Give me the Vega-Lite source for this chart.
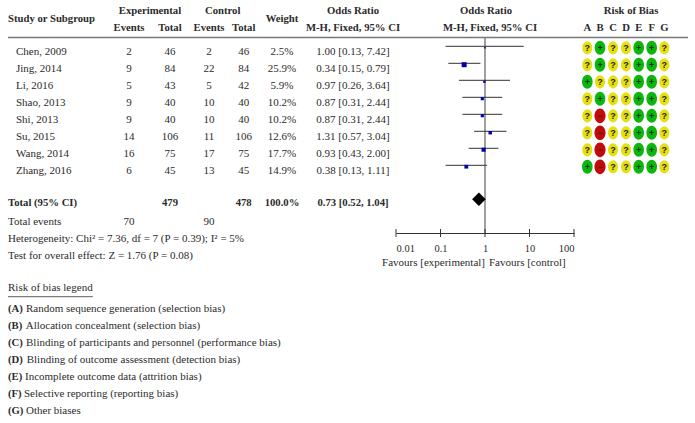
{
"$schema":"https://vega.github.io/schema/vega-lite/v6.json",
"width":695,"height":423,"padding":0,"autosize":"none","background":"white",
"config":{"view":{"stroke":null},"text":{"font":"Liberation Serif","fontSize":11,"color":"#2b2b2b"}},
"datasets":{
"boldCenter":[
{"line":0,"col":9,"t":"Experimental"},{"line":0,"col":12,"t":"Control"},{"line":1,"col":14,"t":"Weight"},{"line":0,"col":15,"t":"Odds Ratio"},{"line":0,"col":17,"t":"Odds Ratio"},{"line":0,"col":24,"t":"Risk of Bias"},
{"line":2,"col":8,"t":"Events"},{"line":2,"col":10,"t":"Total"},{"line":2,"col":11,"t":"Events"},{"line":2,"col":13,"t":"Total"},{"line":2,"col":15,"t":"M-H, Fixed, 95% CI"},{"line":2,"col":19,"t":"M-H, Fixed, 95% CI"},
{"line":2,"col":20,"t":"A"},{"line":2,"col":21,"t":"B"},{"line":2,"col":22,"t":"C"},{"line":2,"col":23,"t":"D"},{"line":2,"col":25,"t":"E"},{"line":2,"col":26,"t":"F"},{"line":2,"col":27,"t":"G"},
{"line":12,"col":10,"t":"479"},{"line":12,"col":13,"t":"478"},{"line":12,"col":14,"t":"100.0%"},{"line":12,"col":15,"t":"0.73 [0.52, 1.04]"}],
"boldLeft":[{"line":1,"col":0,"t":"Study or Subgroup"},{"line":12,"col":0,"t":"Total (95% CI)"},
{"line":19,"col":0,"t":"(A)"},{"line":20,"col":0,"t":"(B)"},{"line":21,"col":0,"t":"(C)"},{"line":22,"col":0,"t":"(D)"},{"line":23,"col":0,"t":"(E)"},{"line":24,"col":0,"t":"(F)"},{"line":25,"col":0,"t":"(G)"}],
"plainLeft":[
{"line":4,"col":1,"t":"Chen, 2009"},{"line":5,"col":1,"t":"Jing, 2014"},{"line":6,"col":1,"t":"Li, 2016"},{"line":7,"col":1,"t":"Shao, 2013"},{"line":8,"col":1,"t":"Shi, 2013"},{"line":9,"col":1,"t":"Su, 2015"},{"line":10,"col":1,"t":"Wang, 2014"},{"line":11,"col":1,"t":"Zhang, 2016"},
{"line":13,"col":0,"t":"Total events"},{"line":15,"col":0,"t":"Heterogeneity: Chi² = 7.36, df = 7 (P = 0.39); I² = 5%"},{"line":16,"col":0,"t":"Test for overall effect: Z = 1.76 (P = 0.08)"},{"line":17,"col":0,"t":"Risk of bias legend"},
{"line":19,"col":5,"t":"Random sequence generation (selection bias)"},{"line":20,"col":4,"t":"Allocation concealment (selection bias)"},{"line":21,"col":5,"t":"Blinding of participants and personnel (performance bias)"},{"line":22,"col":6,"t":"Blinding of outcome assessment (detection bias)"},{"line":23,"col":3,"t":"Incomplete outcome data (attrition bias)"},{"line":24,"col":2,"t":"Selective reporting (reporting bias)"},{"line":25,"col":5,"t":"Other biases"},
{"line":16.22,"col":18,"t":"Favours [control]"}],
"plainRight":[{"line":16.22,"col":16,"t":"Favours [experimental]"}],
"plainCenter":[
{"line":4,"col":8,"t":"2"},{"line":4,"col":10,"t":"46"},{"line":4,"col":11,"t":"2"},{"line":4,"col":13,"t":"46"},{"line":4,"col":14,"t":"2.5%"},{"line":4,"col":15,"t":"1.00 [0.13, 7.42]"},
{"line":5,"col":8,"t":"9"},{"line":5,"col":10,"t":"84"},{"line":5,"col":11,"t":"22"},{"line":5,"col":13,"t":"84"},{"line":5,"col":14,"t":"25.9%"},{"line":5,"col":15,"t":"0.34 [0.15, 0.79]"},
{"line":6,"col":8,"t":"5"},{"line":6,"col":10,"t":"43"},{"line":6,"col":11,"t":"5"},{"line":6,"col":13,"t":"42"},{"line":6,"col":14,"t":"5.9%"},{"line":6,"col":15,"t":"0.97 [0.26, 3.64]"},
{"line":7,"col":8,"t":"9"},{"line":7,"col":10,"t":"40"},{"line":7,"col":11,"t":"10"},{"line":7,"col":13,"t":"40"},{"line":7,"col":14,"t":"10.2%"},{"line":7,"col":15,"t":"0.87 [0.31, 2.44]"},
{"line":8,"col":8,"t":"9"},{"line":8,"col":10,"t":"40"},{"line":8,"col":11,"t":"10"},{"line":8,"col":13,"t":"40"},{"line":8,"col":14,"t":"10.2%"},{"line":8,"col":15,"t":"0.87 [0.31, 2.44]"},
{"line":9,"col":8,"t":"14"},{"line":9,"col":10,"t":"106"},{"line":9,"col":11,"t":"11"},{"line":9,"col":13,"t":"106"},{"line":9,"col":14,"t":"12.6%"},{"line":9,"col":15,"t":"1.31 [0.57, 3.04]"},
{"line":10,"col":8,"t":"16"},{"line":10,"col":10,"t":"75"},{"line":10,"col":11,"t":"17"},{"line":10,"col":13,"t":"75"},{"line":10,"col":14,"t":"17.7%"},{"line":10,"col":15,"t":"0.93 [0.43, 2.00]"},
{"line":11,"col":8,"t":"6"},{"line":11,"col":10,"t":"45"},{"line":11,"col":11,"t":"13"},{"line":11,"col":13,"t":"45"},{"line":11,"col":14,"t":"14.9%"},{"line":11,"col":15,"t":"0.38 [0.13, 1.11]"},
{"line":13,"col":8,"t":"70"},{"line":13,"col":11,"t":"90"}],
"rules":[{"line":3,"from":0,"to":28}],
"underline":[{"line":18,"from":0,"to":7}],
"risk":[
{"line":4,"col":20,"r":"?"},{"line":4,"col":21,"r":"+"},{"line":4,"col":22,"r":"?"},{"line":4,"col":23,"r":"?"},{"line":4,"col":25,"r":"+"},{"line":4,"col":26,"r":"+"},{"line":4,"col":27,"r":"?"},
{"line":5,"col":20,"r":"?"},{"line":5,"col":21,"r":"+"},{"line":5,"col":22,"r":"?"},{"line":5,"col":23,"r":"?"},{"line":5,"col":25,"r":"+"},{"line":5,"col":26,"r":"+"},{"line":5,"col":27,"r":"?"},
{"line":6,"col":20,"r":"+"},{"line":6,"col":21,"r":"?"},{"line":6,"col":22,"r":"?"},{"line":6,"col":23,"r":"?"},{"line":6,"col":25,"r":"+"},{"line":6,"col":26,"r":"+"},{"line":6,"col":27,"r":"?"},
{"line":7,"col":20,"r":"?"},{"line":7,"col":21,"r":"+"},{"line":7,"col":22,"r":"?"},{"line":7,"col":23,"r":"?"},{"line":7,"col":25,"r":"+"},{"line":7,"col":26,"r":"+"},{"line":7,"col":27,"r":"?"},
{"line":8,"col":20,"r":"?"},{"line":8,"col":21,"r":"−"},{"line":8,"col":22,"r":"?"},{"line":8,"col":23,"r":"?"},{"line":8,"col":25,"r":"+"},{"line":8,"col":26,"r":"+"},{"line":8,"col":27,"r":"?"},
{"line":9,"col":20,"r":"?"},{"line":9,"col":21,"r":"−"},{"line":9,"col":22,"r":"?"},{"line":9,"col":23,"r":"?"},{"line":9,"col":25,"r":"+"},{"line":9,"col":26,"r":"+"},{"line":9,"col":27,"r":"?"},
{"line":10,"col":20,"r":"?"},{"line":10,"col":21,"r":"−"},{"line":10,"col":22,"r":"?"},{"line":10,"col":23,"r":"?"},{"line":10,"col":25,"r":"+"},{"line":10,"col":26,"r":"+"},{"line":10,"col":27,"r":"?"},
{"line":11,"col":20,"r":"+"},{"line":11,"col":21,"r":"−"},{"line":11,"col":22,"r":"?"},{"line":11,"col":23,"r":"?"},{"line":11,"col":25,"r":"+"},{"line":11,"col":26,"r":"+"},{"line":11,"col":27,"r":"?"}],
"studies":[
{"line":4,"weight":2.5,"or":1.00,"lo":0.13,"hi":7.42},
{"line":5,"weight":25.9,"or":0.34,"lo":0.15,"hi":0.79},
{"line":6,"weight":5.9,"or":0.97,"lo":0.26,"hi":3.64},
{"line":7,"weight":10.2,"or":0.87,"lo":0.31,"hi":2.44},
{"line":8,"weight":10.2,"or":0.87,"lo":0.31,"hi":2.44},
{"line":9,"weight":12.6,"or":1.31,"lo":0.57,"hi":3.04},
{"line":10,"weight":17.7,"or":0.93,"lo":0.43,"hi":2.00},
{"line":11,"weight":14.9,"or":0.38,"lo":0.13,"hi":1.11}],
"overall":[{"line":12,"or":0.73,"lo":0.52,"hi":1.04}],
"noEffect":[{"or":1,"from":3,"to":14}],
"ticks":[{"line":14,"or":0.01},{"line":14,"or":0.1},{"line":14,"or":1},{"line":14,"or":10},{"line":14,"or":100}]
},
"encoding":{
"y":{"field":"line","type":"quantitative","axis":null,"scale":{"domain":[0,1,2,3,4,5,6,7,8,9,10,11,12,13,14,15,16,17,18,19,20,21,22,23,24,25],"range":[11,19,28,37.5,52,69,86,103,120,137,154,171,203,221.7,233,239,256,288,296.7,309,326,343,360,377,394,411]}}
},
"layer":[
{"encoding":{"x":{"field":"col","type":"quantitative","axis":null,"scale":{"domain":[0,1,2,3,4,5,6,7,8,9,10,11,12,13,14,15,16,17,18,19,20,21,22,23,24,25,26,27,28],"range":[8,16,24,25,25.7,26,26.7,92.7,129,150,170,209,222.7,243.7,282,353,485,486,489,490,587.3,600,613,626,631,638.7,651.7,664.3,688]}}},
"layer":[
{"data":{"name":"rules"},"mark":{"type":"rule","color":"#777777","strokeWidth":1.5},"encoding":{"x":{"field":"from","type":"quantitative"},"x2":{"field":"to"}}},
{"data":{"name":"underline"},"mark":{"type":"rule","color":"#333333","strokeWidth":0.8},"encoding":{"x":{"field":"from","type":"quantitative"},"x2":{"field":"to"}}},
{"data":{"name":"risk"},"mark":{"type":"point","filled":true,"opacity":1,"shape":"M-0.76,0A0.76,1,0,1,1,0.76,0A0.76,1,0,1,1,-0.76,0Z","yOffset":-4.2},"encoding":{"fill":{"field":"r","type":"nominal","legend":null,"scale":{"domain":["?","+","−"],"range":["#e6df12","#0cb60f","#bf0b0b"]}},"size":{"field":"r","type":"ordinal","legend":null,"scale":{"domain":["?","+","−"],"range":[175,215,215]}}}},
{"data":{"name":"risk"},"mark":{"type":"text","font":"Liberation Sans","fontSize":9,"fontWeight":"bold","baseline":"middle","align":"center","yOffset":-4.2},"encoding":{"text":{"field":"r"},"color":{"field":"r","type":"nominal","legend":null,"scale":{"domain":["?","+","−"],"range":["#222200","#063d08","#6d1010"]}}}},
{"data":{"name":"boldCenter"},"mark":{"type":"text","fontWeight":"bold","fontSize":10.7,"align":"center","baseline":"middle"},"encoding":{"text":{"field":"t"}}},
{"data":{"name":"boldLeft"},"mark":{"type":"text","fontWeight":"bold","fontSize":10.7,"align":"left","baseline":"middle"},"encoding":{"text":{"field":"t"}}},
{"data":{"name":"plainLeft"},"mark":{"type":"text","align":"left","baseline":"middle"},"encoding":{"text":{"field":"t"}}},
{"data":{"name":"plainRight"},"mark":{"type":"text","align":"right","baseline":"middle"},"encoding":{"text":{"field":"t"}}},
{"data":{"name":"plainCenter"},"mark":{"type":"text","align":"center","baseline":"middle"},"encoding":{"text":{"field":"t"}}}
]},
{"encoding":{"x":{"field":"or","type":"quantitative","title":null,"scale":{"type":"log","domain":[0.01,100],"range":[396,574],"nice":false},"axis":{"values":[0.01,0.1,1,10,100],"format":"~g","offset":-190,"grid":false,"ticks":false,"labelFlush":true,"labelPadding":10,"labelFont":"Liberation Serif","labelFontSize":10.5,"labelColor":"#2b2b2b","domainColor":"#333333","domainWidth":1,"title":null}}},
"layer":[
{"data":{"name":"noEffect"},"mark":{"type":"rule","color":"#808080","strokeWidth":1.5},"encoding":{"y":{"field":"from","type":"quantitative"},"y2":{"field":"to"}}},
{"data":{"name":"ticks"},"mark":{"type":"tick","orient":"vertical","size":8,"thickness":1,"color":"#333333","opacity":1}},
{"data":{"name":"studies"},"mark":{"type":"rule","color":"#333333","strokeWidth":1,"yOffset":-5.7},"encoding":{"x":{"field":"lo","type":"quantitative"},"x2":{"field":"hi"}}},
{"data":{"name":"studies"},"mark":{"type":"point","shape":"square","filled":true,"color":"#0000b0","opacity":1,"yOffset":-4.3},"encoding":{"size":{"field":"weight","type":"quantitative","legend":null,"scale":{"domain":[0,25.9],"range":[0,25]}}}},
{"data":{"name":"overall"},"mark":{"type":"point","shape":"diamond","filled":true,"color":"#000000","opacity":1,"size":185,"yOffset":-3.7}}
]}
],
"resolve":{"scale":{"x":"independent"}}
}
